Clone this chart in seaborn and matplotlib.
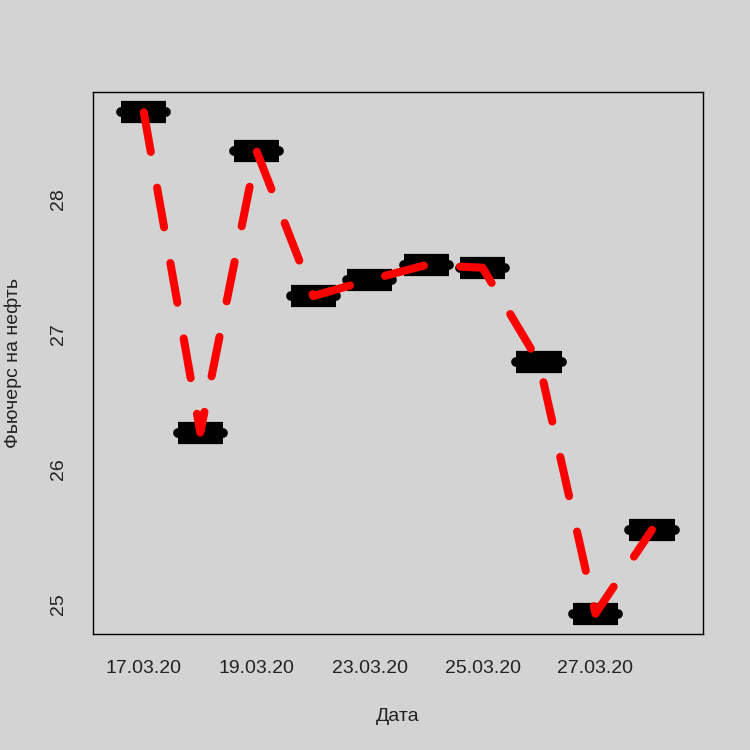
import matplotlib
matplotlib.use("Agg")
import matplotlib.pyplot as plt
import seaborn as sns
import pandas as pd
import numpy as np

dates = ["17.03.20", "18.03.20", "19.03.20", "20.03.20", "23.03.20",
         "24.03.20", "25.03.20", "26.03.20", "27.03.20", "30.03.20"]
prices = [28.64, 26.27, 28.35, 27.28, 27.40, 27.51, 27.49, 26.79, 24.93, 25.55]
shown_labels = [True, False, True, False, True, False, True, False, True, False]

bg = "#d3d3d3"
sns.set_style("white")
plt.rcParams["font.family"] = ["Liberation Sans", "DejaVu Sans"]

df = pd.DataFrame({"pos": np.arange(1, len(dates) + 1), "price": prices, "date": dates})

fig = plt.figure(figsize=(7.5, 7.5), dpi=100, facecolor=bg)
ax = fig.add_axes([0.124, 0.1547, 0.813, 0.7226])
ax.set_facecolor(bg)

# boxes (degenerate boxplots): thick black bars with rounded median ends
ax.hlines(df["price"], df["pos"] - 0.4, df["pos"] + 0.4, colors="black",
          linewidth=16, capstyle="butt", zorder=2)
ax.hlines(df["price"], df["pos"] - 0.4, df["pos"] + 0.4, colors="black",
          linewidth=7, capstyle="round", zorder=2)

sns.lineplot(data=df, x="pos", y="price", ax=ax, color="#ff0000", linewidth=5.8,
             zorder=3)
line = ax.lines[-1]
line.set_dashes((5, 4.5))
line.set_dash_capstyle("round")
line.set_solid_capstyle("round")

ax.set_xlim(0.1, 10.9)
ax.set_ylim(24.78, 28.79)
ax.set_xticks(df["pos"])
ax.set_xticklabels([d if s else "" for d, s in zip(dates, shown_labels)])
ax.set_yticks([25, 26, 27, 28])
ax.set_yticklabels(["25", "26", "27", "28"], rotation=90, va="center")

for s in ax.spines.values():
    s.set_visible(True)
    s.set_color("black")
    s.set_linewidth(1.0)

ax.tick_params(axis="both", direction="out", length=9, width=1, color="black",
               labelsize=14, labelcolor="#222222", pad=10)
ax.tick_params(axis="y", pad=10)

ax.set_xlabel("Дата", fontsize=14, color="#222222", labelpad=22)
ax.set_ylabel("Фьючерс на нефть", fontsize=14, color="#222222", labelpad=20)

fig.savefig("out.png", dpi=100, facecolor=bg)
